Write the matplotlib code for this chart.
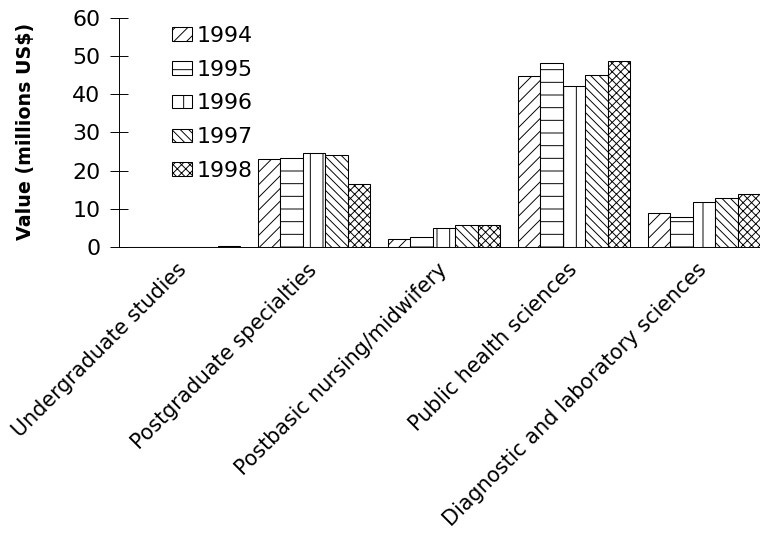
import numpy as np
import matplotlib
matplotlib.use("Agg")
import matplotlib.pyplot as plt
from matplotlib.transforms import ScaledTranslation

# Funding by training area and year (millions US$)
categories = [
    "Undergraduate studies",
    "Postgraduate specialties",
    "Postbasic nursing/midwifery",
    "Public health sciences",
    "Diagnostic and laboratory sciences",
]
years = ["1994", "1995", "1996", "1997", "1998"]
values_1994 = [0.0, 23.0, 1.9, 44.8, 8.8]
values_1995 = [0.0, 23.2, 2.6, 48.3, 7.9]
values_1996 = [0.0, 24.5, 4.8, 42.2, 11.8]
values_1997 = [0.0, 24.1, 5.7, 45.1, 12.7]
values_1998 = [0.3, 16.6, 5.7, 48.8, 13.8]
series = [values_1994, values_1995, values_1996, values_1997, values_1998]
hatches = ["//", "-", "|", "\\\\\\", "xxx"]
yticks = [0, 10, 20, 30, 40, 50, 60]

DPI = 76
plt.rcParams["font.family"] = ["DejaVu Sans"]
plt.rcParams["hatch.linewidth"] = 0.9
plt.rcParams["hatch.color"] = "black"

fig = plt.figure(figsize=(760 / DPI, 533 / DPI), dpi=DPI)
W, H = 760, 533
left, right = 119, 769
bottom, top = 246.7, 18.3
ax = fig.add_axes([left / W, 1 - bottom / H, (right - left) / W, (bottom - top) / H])

x = np.arange(len(categories))
bw = 0.172
for i, (vals, hatch, yr) in enumerate(zip(series, hatches, years)):
    offs = (i - 2) * bw
    ax.bar(x + offs, vals, width=bw, facecolor="white", edgecolor="black",
           linewidth=1.0, hatch=hatch, label=yr)

ax.set_xlim(-0.5, len(categories) - 0.5)
ax.set_ylim(0, 60)
ax.set_yticks(yticks)
ax.set_yticklabels([str(t) for t in yticks], fontsize=21)
ax.tick_params(axis="y", direction="inout", length=17, width=0.9, pad=9)
ax.set_xticks(x)
ax.set_xticklabels(categories, rotation=45, ha="right", va="center",
                   rotation_mode="anchor", fontsize=19.6)
ax.tick_params(axis="x", length=0, pad=19)

for s in ["top", "right"]:
    ax.spines[s].set_visible(False)
ax.spines["left"].set_linewidth(0.9)
ax.spines["bottom"].set_linewidth(0.9)

fig.text(26 / W, 1 - 131 / H, "Value (millions US$)", rotation=90,
         fontsize=18, fontweight="bold", ha="center", va="center")

leg = ax.legend(loc="upper left", bbox_to_anchor=(172 / W, 1 - 26 / H),
                bbox_transform=fig.transFigure, frameon=False, fontsize=21,
                handlelength=0.9, handleheight=0.55, handletextpad=0.22,
                labelspacing=0.62, borderpad=0, borderaxespad=0)

fig.savefig("out.png", dpi=DPI)
